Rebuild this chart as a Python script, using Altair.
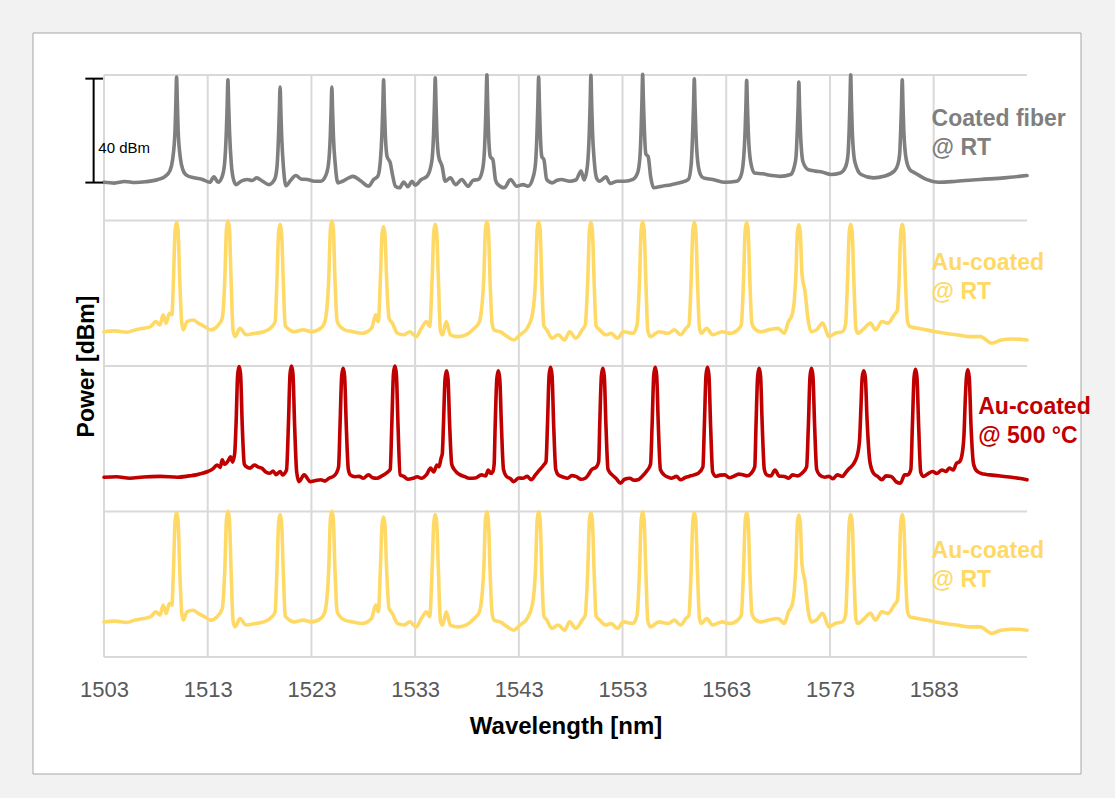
import altair as alt
import pandas as pd

# ---------------- data (wavelength nm, relative power dB) ----------------
gray_pts = [
(1503.0,0.1),(1504.0,-0.2),(1505.0,0.4),(1506.0,0.0),(1507.0,0.3),(1508.2,1.2),(1508.9,2.4),(1509.35,4.5),(1509.62,9),
(1509.85,20),(1509.93,31),(1510.0,40.6),(1510.07,31),(1510.15,20),(1510.38,9),(1510.6,5.0),
(1511.0,2.7),(1511.8,1.8),(1512.5,1.2),(1513.2,0.1),(1513.6,2.2),(1514.0,0.1),(1514.4,2.4),(1514.62,7),
(1514.8,20),(1514.88,30),(1514.95,39.6),(1515.02,30),(1515.1,20),(1515.28,7),(1515.5,1.0),
(1515.75,-0.8),(1516.2,0.5),(1516.8,1.2),(1517.3,0.8),(1517.7,1.8),(1518.3,0.5),(1518.9,-0.8),(1519.45,1.2),(1519.68,6),
(1519.83,18),(1519.91,28),(1519.98,36.8),(1520.05,28),(1520.13,18),(1520.3,6),(1520.55,-1.2),
(1521.0,0.9),(1521.5,2.7),(1522.0,1.4),(1522.6,1.2),(1523.3,0.5),(1523.9,0.5),(1524.35,2.4),(1524.64,7),
(1524.82,18),(1524.9,28),(1524.97,36.8),(1525.04,28),(1525.12,18),(1525.3,7),(1525.55,-0.1),
(1526.0,0.5),(1526.6,1.8),(1527.0,2.4),(1527.8,0.5),(1528.5,-1.4),(1529.0,1.2),(1529.4,2.4),(1529.64,8),
(1529.81,20),(1529.89,30),(1529.96,39.6),(1530.03,30),(1530.11,20),(1530.3,10),(1530.6,7.6),(1530.82,3.0),
(1531.1,-1.4),(1531.5,-2.0),(1531.9,0.2),(1532.3,-1.6),(1532.7,0.5),(1533.0,-1.0),(1533.6,1.2),(1534.15,2.4),(1534.6,8),
(1534.79,20),(1534.87,31),(1534.94,40.3),(1535.01,31),(1535.09,20),(1535.27,10),(1535.6,6.3),(1535.9,0.5),
(1536.4,1.8),(1536.9,-0.8),(1537.5,1.2),(1538.1,-1.4),(1538.6,0.9),(1539.1,1.2),(1539.5,5.0),(1539.68,12),
(1539.78,22),(1539.85,32),(1539.92,41.5),(1539.99,31),(1540.07,20),(1540.25,10),(1540.5,8.8),(1540.75,1.0),
(1541.0,-0.8),(1541.6,-2.0),(1542.2,1.2),(1542.8,-1.4),(1543.4,-0.8),(1543.9,-1.4),(1544.4,2.4),(1544.62,8),
(1544.76,20),(1544.84,31),(1544.91,40.6),(1544.98,31),(1545.06,20),(1545.22,10),(1545.42,8.8),(1545.68,1.2),
(1546.2,-0.1),(1546.7,0.9),(1547.1,1.2),(1547.9,0.5),(1548.5,1.0),(1549.0,4.4),(1549.3,1.0),(1549.6,6),
(1549.8,20),(1549.88,31),(1549.95,41.3),(1550.02,31),(1550.1,20),(1550.28,8),(1550.52,1.5),
(1550.8,0.5),(1551.4,2.2),(1551.8,-0.3),(1552.5,0.5),(1553.2,0.5),(1554.0,1.2),(1554.45,3.7),(1554.68,10),
(1554.79,20),(1554.87,31),(1554.94,41.7),(1555.01,32),(1555.09,22),(1555.25,11),(1555.47,10),(1555.72,2.0),
(1556.0,-2.0),(1556.8,-1.4),(1557.7,-0.8),(1558.6,0.0),(1559.35,1.2),(1559.62,7),
(1559.77,20),(1559.85,30),(1559.92,39.9),(1559.99,30),(1560.07,20),(1560.25,8),(1560.52,3.0),
(1560.8,1.8),(1561.7,1.2),(1562.9,0.1),(1564.0,0.5),(1564.4,2.4),(1564.67,9),
(1564.82,20),(1564.9,30),(1564.97,39.4),(1565.04,30),(1565.12,20),(1565.35,8),(1565.72,3.7),
(1566.5,3.4),(1567.4,2.7),(1568.2,2.4),(1569.2,3.1),(1569.55,6),(1569.73,10),
(1569.85,20),(1569.93,29),(1570.0,38.7),(1570.07,29),(1570.15,20),(1570.4,8),(1570.9,5.0),
(1571.6,4.4),(1572.3,4.0),(1573.1,3.1),(1574.0,3.7),(1574.5,6),(1574.72,10),
(1574.85,20),(1574.93,31),(1575.0,41.5),(1575.07,31),(1575.15,20),(1575.4,8),(1576.0,3.1),
(1577.2,1.8),(1578.2,2.4),(1579.2,4.4),(1579.55,7),(1579.72,11),
(1579.82,20),(1579.9,30),(1579.97,39.6),(1580.04,30),(1580.12,20),(1580.35,9),(1580.7,5.0),
(1581.2,3.7),(1582.3,1.2),(1583.5,0.1),(1585.2,0.5),(1587.5,1.2),(1589.8,1.8),(1592.0,2.7),
]

yellow_pts = [
(1503.0,-0.3),(1504.0,0.0),(1505.2,-0.5),(1506.0,0.4),(1506.8,1.0),(1507.5,1.7),(1508.0,3.6),(1508.4,2.3),(1508.7,6.2),(1509.0,3.0),(1509.3,6.8),(1509.55,6.2),
(1509.7,20),(1509.86,38.8),(1510.0,41.8),(1510.14,38.8),(1510.3,20),(1510.5,3),
(1510.65,0.4),(1511.0,3.6),(1511.6,4.2),(1512.1,3.0),(1512.7,1.7),(1513.3,0.4),(1513.9,1.7),(1514.4,4.9),
(1514.65,20),(1514.81,39.3),(1514.95,42.3),(1515.09,39.3),(1515.25,20),(1515.45,0),
(1515.65,-2.2),(1516.1,1.0),(1516.7,-1.5),(1517.6,-0.9),(1518.4,-0.3),(1519.2,1.7),(1519.5,3.6),
(1519.68,20),(1519.84,38.0),(1519.98,41.0),(1520.12,38.0),(1520.28,20),(1520.48,2),
(1520.7,1.0),(1521.3,-0.3),(1522.2,0.4),(1523.0,-0.3),(1523.9,1.0),(1524.3,3.6),
(1524.67,20),(1524.83,39.3),(1524.97,42.3),(1525.11,39.3),(1525.27,20),(1525.47,4),
(1525.65,2.3),(1526.2,0.4),(1527.0,-0.3),(1527.9,-0.9),(1528.8,1.0),(1529.2,6.2),(1529.45,3.6),
(1529.65,20),(1529.81,37.1),(1529.95,40.1),(1530.09,37.1),(1530.25,20),(1530.48,5),
(1530.8,3.0),(1531.3,-0.9),(1531.9,-1.5),(1532.5,-0.3),(1533.1,-2.2),(1533.6,1.0),(1534.1,3.6),(1534.4,1.7),
(1534.64,20),(1534.8,38.0),(1534.94,41.0),(1535.08,38.0),(1535.24,20),(1535.44,0),
(1535.65,-1.5),(1536.0,3.6),(1536.4,-1.5),(1537.1,-2.2),(1537.9,-1.5),(1538.7,1.0),(1539.2,3.6),
(1539.62,20),(1539.78,39.1),(1539.92,42.1),(1540.06,39.1),(1540.22,20),(1540.42,3),
(1540.62,0.4),(1541.2,-0.3),(1541.9,-2.2),(1542.5,-3.5),(1543.1,-1.5),(1543.8,1.0),(1544.3,6.2),
(1544.61,20),(1544.77,39.1),(1544.91,42.1),(1545.05,39.1),(1545.21,20),(1545.41,2),
(1545.7,0.4),(1546.2,-2.8),(1546.8,-1.5),(1547.4,-3.5),(1547.9,-0.3),(1548.5,-2.8),(1549.1,0.4),(1549.4,2.3),
(1549.65,20),(1549.81,38.8),(1549.95,41.8),(1550.09,38.8),(1550.25,20),(1550.45,2),
(1550.8,0.4),(1551.4,-1.5),(1551.9,-0.9),(1552.5,-2.8),(1553.1,-0.3),(1554.0,-0.9),(1554.4,2.3),
(1554.64,20),(1554.8,39.1),(1554.94,42.1),(1555.08,39.1),(1555.24,20),(1555.44,0),
(1555.7,-2.2),(1556.5,-0.3),(1557.4,-0.9),(1558.0,0.4),(1558.6,-1.5),(1559.1,1.0),(1559.4,2.3),
(1559.62,20),(1559.78,38.8),(1559.92,41.8),(1560.06,38.8),(1560.22,20),(1560.42,1),
(1560.62,-0.9),(1561.1,1.0),(1561.7,-1.5),(1562.6,-0.3),(1563.4,-0.9),(1564.1,0.4),(1564.45,2.3),
(1564.67,20),(1564.83,38.8),(1564.97,41.8),(1565.11,38.8),(1565.27,20),(1565.47,3),
(1565.7,1.0),(1566.3,-0.3),(1567.1,0.4),(1568.0,1.0),(1568.6,-0.9),(1569.0,3.6),(1569.35,6.2),(1569.58,12.6),
(1569.72,22),(1569.86,37.8),(1570.0,40.8),(1570.14,37.8),(1570.3,22),(1570.6,15),(1570.9,4),
(1571.2,-0.3),(1571.7,0.4),(1572.3,3.0),(1572.9,-2.2),(1573.5,-0.9),(1574.2,-0.3),(1574.5,2.3),
(1574.7,20),(1574.86,38.0),(1575.0,41.0),(1575.14,38.0),(1575.3,20),(1575.5,1),
(1575.7,-0.9),(1576.3,1.0),(1576.9,3.0),(1577.4,0.4),(1578.0,3.6),(1578.6,3.0),(1579.2,6.2),(1579.5,8),
(1579.67,20),(1579.83,38.0),(1579.97,41.0),(1580.11,38.0),(1580.27,20),(1580.47,4),
(1580.7,1.7),(1581.5,1.0),(1582.3,0.4),(1583.2,-0.3),(1584.1,-0.9),(1585.2,-1.5),(1586.4,-2.2),(1587.5,-2.2),(1588.6,-4.7),(1589.5,-3.5),(1590.6,-3.1),(1592.0,-3.5),
]

red_pts = [
(1503.0,0.0),(1504.2,0.2),(1505.5,-0.4),(1506.8,0.1),(1508.4,0.3),(1510.1,0.0),(1511.2,0.5),(1511.9,0.9),(1512.5,1.5),(1513.0,2.2),(1513.5,3.2),(1513.9,4.7),(1514.2,3.8),(1514.4,6.7),(1514.6,5.0),(1514.8,5.4),(1515.0,6.5),(1515.2,7.9),(1515.4,5.8),(1515.6,9),
(1515.73,20),(1515.89,39.6),(1516.03,42.6),(1516.17,39.6),(1516.33,20),(1516.53,5),
(1516.7,4.1),(1517.1,3.5),(1517.5,4.7),(1517.9,3.9),(1518.2,3.5),(1518.6,2.0),(1519.0,1.5),(1519.3,2.4),(1519.6,1.0),(1520.0,2.2),(1520.2,0.9),(1520.6,2.8),
(1520.78,20),(1520.94,39.8),(1521.08,42.8),(1521.22,39.8),(1521.38,20),(1521.58,2),
(1521.8,-1.7),(1522.3,0.9),(1522.9,-1.7),(1523.4,-1.3),(1523.9,-1.0),(1524.3,-1.5),(1524.7,-0.4),(1525.1,0.3),(1525.4,1.5),(1525.62,4),
(1525.76,20),(1525.92,38.9),(1526.06,41.9),(1526.2,38.9),(1526.36,20),(1526.56,3),
(1526.75,0.9),(1527.2,0.2),(1527.6,0.3),(1528.0,-0.4),(1528.5,0.9),(1528.9,-0.2),(1529.3,-0.4),(1529.8,0.5),(1530.2,1.5),(1530.6,3),
(1530.75,20),(1530.91,39.8),(1531.05,42.8),(1531.19,39.8),(1531.35,20),(1531.55,1),
(1531.9,0.3),(1532.3,-0.8),(1532.8,-0.4),(1533.2,0.2),(1533.6,-0.4),(1534.1,1.0),(1534.5,3.5),(1534.8,2.0),(1535.1,4.7),(1535.3,4.0),(1535.5,7.3),(1535.62,9),
(1535.73,20),(1535.89,38.0),(1536.03,41.0),(1536.17,38.0),(1536.33,20),(1536.53,5),
(1536.8,2.8),(1537.35,0.9),(1537.8,0.2),(1538.2,-0.4),(1538.8,-0.3),(1539.4,0.9),(1539.8,0.5),(1540.05,2.8),(1540.3,1.5),(1540.5,2.2),(1540.62,5),
(1540.72,20),(1540.88,38.0),(1541.02,41.0),(1541.16,38.0),(1541.32,20),(1541.52,3),
(1541.8,0.3),(1542.2,-0.6),(1542.5,-1.7),(1543.0,-0.3),(1543.4,-0.4),(1543.8,0.3),(1544.2,-1.0),(1544.6,0.9),(1545.0,2.8),(1545.4,4.7),(1545.62,6),
(1545.76,20),(1545.92,39.3),(1546.06,42.3),(1546.2,39.3),(1546.36,20),(1546.56,3),
(1546.8,0.9),(1547.3,0.0),(1547.7,-0.4),(1548.1,0.6),(1548.5,0.3),(1549.0,-0.8),(1549.4,-0.4),(1549.7,0.9),(1550.0,2.8),(1550.5,4.1),(1550.7,6),
(1550.8,20),(1550.96,38.9),(1551.1,41.9),(1551.24,38.9),(1551.4,20),(1551.6,3),
(1552.0,0.9),(1552.4,-0.6),(1552.8,-2.3),(1553.2,-0.8),(1553.7,-0.4),(1554.1,-1.2),(1554.5,-1.0),(1554.9,0.4),(1555.3,2.2),(1555.7,5),
(1555.85,20),(1556.01,39.3),(1556.15,42.3),(1556.29,39.3),(1556.45,20),(1556.65,3),
(1557.0,0.9),(1557.4,0.0),(1557.7,-0.4),(1558.2,0.3),(1558.6,-1.0),(1559.0,-0.2),(1559.4,0.3),(1559.9,0.9),(1560.3,1.5),(1560.75,4),
(1560.89,20),(1561.05,39.3),(1561.19,42.3),(1561.33,39.3),(1561.49,20),(1561.69,2),
(1562.0,0.3),(1562.4,0.8),(1562.85,0.9),(1563.3,-0.2),(1563.7,0.3),(1564.2,1.2),(1564.6,0.9),(1565.0,0.5),(1565.4,1.5),(1565.75,4),
(1565.87,20),(1566.03,38.9),(1566.17,41.9),(1566.31,38.9),(1566.47,20),(1566.67,3),
(1566.9,0.9),(1567.3,0.5),(1567.7,2.8),(1568.1,0.4),(1568.6,0.3),(1569.0,-0.4),(1569.4,0.9),(1569.9,0.5),(1570.3,1.5),(1570.75,4),
(1570.92,20),(1571.08,38.9),(1571.22,41.9),(1571.36,38.9),(1571.52,20),(1571.72,3),
(1572.0,0.9),(1572.5,0.0),(1572.9,0.3),(1573.3,-0.6),(1573.7,0.9),(1574.2,0.3),(1574.6,2.2),(1574.9,3.5),(1575.2,4.7),(1575.4,6.0),(1575.6,7.9),(1575.85,14),
(1575.98,26),(1576.11,38.5),(1576.26,41.0),(1576.41,38.5),(1576.58,22),(1576.85,6),
(1577.2,1.5),(1577.6,0.3),(1578.0,-1.0),(1578.4,0.5),(1578.9,0.3),(1579.4,-1.8),(1579.8,-2.3),(1580.2,0.9),(1580.5,0.9),(1580.8,3),
(1580.95,20),(1581.11,38.5),(1581.25,41.5),(1581.39,38.5),(1581.55,20),(1581.75,2),
(1582.0,0.3),(1582.4,1.2),(1582.9,2.2),(1583.3,1.4),(1583.8,2.8),(1584.2,2.2),(1584.5,3.5),(1584.9,2.8),(1585.2,5.4),(1585.5,6),(1585.7,7.9),(1585.92,16),
(1586.05,30),(1586.16,38.5),(1586.29,41.3),(1586.43,38.5),(1586.6,20),(1586.85,5),
(1587.2,2.2),(1587.8,1.2),(1588.4,0.9),(1589.1,0.6),(1589.8,0.3),(1590.5,0.0),(1591.2,-0.4),(1592.0,-1.0),
]

# vertical stacking offsets of the four traces (dB)
series_names = ["Coated fiber @ RT", "Au-coated @ RT (top)", "Au-coated @ 500 °C", "Au-coated @ RT (bottom)"]
series_offsets = [182.6, 125.5, 69.2, 13.8]
series_colors = ["#7f7f7f", "#FFD966", "#C00000", "#FFD966"]
series_points = [gray_pts, yellow_pts, red_pts, yellow_pts]

x_ticks = [1503, 1513, 1523, 1533, 1543, 1553, 1563, 1573, 1583]
y_grid = [0, 56, 112, 168, 224]
X_DOMAIN = [1503, 1592]
Y_DOMAIN = [0, 224]

label_text = ["Coated fiber", "@ RT", "Au-coated", "@ RT", "Au-coated", "@ 500 °C", "Au-coated", "@ RT"]
label_x = [1582.8, 1582.8, 1582.8, 1582.8, 1587.3, 1587.3, 1582.8, 1582.8]
label_y = [204.4, 193.2, 148.9, 137.7, 93.4, 82.2, 38.0, 26.9]
label_color = ["#7f7f7f", "#7f7f7f", "#FFD966", "#FFD966", "#C00000", "#C00000", "#FFD966", "#FFD966"]

# scale bar (40 dBm) drawn at the left of the top trace
bar_x = 1502.0
bar_y = [182.6, 222.6]
bar_tick_x = [1501.2, 1502.9]

# ---------------- build tables ----------------
rows = []
for name, off, pts in zip(series_names, series_offsets, series_points):
    for wl, p in pts:
        rows.append({"wl": wl, "p": p + off, "series": name})
df = pd.DataFrame(rows)

W, H = 923, 582
xs = alt.Scale(domain=X_DOMAIN, nice=False, zero=False)
ys = alt.Scale(domain=Y_DOMAIN, nice=False, zero=False)

# white panel behind everything
panel = alt.Chart(pd.DataFrame({"a": [0]})).mark_rect(
    fill="white", stroke="#a6a6a6", strokeWidth=1
).encode(x=alt.value(-71), x2=alt.value(977), y=alt.value(-42), y2=alt.value(699))

vgrid = alt.Chart(pd.DataFrame({"wl": x_ticks})).mark_rule(
    color="#d9d9d9", strokeWidth=2
).encode(
    x=alt.X("wl:Q", scale=xs,
            axis=alt.Axis(values=x_ticks, grid=False, domain=False, ticks=False, tickSize=0,
                          labelFont="Liberation Sans", labelFontSize=22, labelColor="#595959",
                          labelPadding=22, title="Wavelength [nm]", titleFont="Liberation Sans",
                          titleFontSize=24, titleFontWeight="bold", titleColor="#000000",
                          titlePadding=14, format="d", labelFlush=False, zindex=2)),
    y=alt.datum(Y_DOMAIN[0]), y2=alt.datum(Y_DOMAIN[1]),
)

hgrid = alt.Chart(pd.DataFrame({"g": y_grid})).mark_rule(
    color="#d9d9d9", strokeWidth=2
).encode(
    y=alt.Y("g:Q", scale=ys,
            axis=alt.Axis(labels=False, ticks=False, domain=False, grid=False,
                          title="Power [dBm]", titleFont="Liberation Sans", titleFontSize=23,
                          titleFontWeight="bold", titleColor="#000000", titlePadding=6, zindex=2)),
    x=alt.datum(X_DOMAIN[0]), x2=alt.datum(X_DOMAIN[1]),
)

lines = alt.Chart(df).mark_line(strokeWidth=3.6, interpolate="monotone", strokeJoin="round", strokeCap="round").encode(
    x=alt.X("wl:Q", scale=xs),
    y=alt.Y("p:Q", scale=ys),
    color=alt.Color("series:N", scale=alt.Scale(domain=series_names, range=series_colors), legend=None),
    detail="series:N",
)

labels_df = pd.DataFrame({"text": label_text, "wl": label_x, "p": label_y, "c": label_color})
labels = alt.Chart(labels_df).mark_text(
    font="Liberation Sans", fontSize=23, fontWeight="bold", align="left", baseline="alphabetic"
).encode(
    x=alt.X("wl:Q", scale=xs), y=alt.Y("p:Q", scale=ys),
    text="text:N", color=alt.Color("c:N", scale=None),
)

bar = alt.Chart(pd.DataFrame({"wl": [bar_x]})).mark_rule(color="black", strokeWidth=2).encode(
    x=alt.X("wl:Q", scale=xs), y=alt.datum(bar_y[0]), y2=alt.datum(bar_y[1]),
)
bar_ticks = alt.Chart(pd.DataFrame({"p": bar_y})).mark_rule(color="black", strokeWidth=2).encode(
    y=alt.Y("p:Q", scale=ys), x=alt.datum(bar_tick_x[0]), x2=alt.datum(bar_tick_x[1]),
)
bar_text = alt.Chart(pd.DataFrame({"wl": [1502.45], "p": [193.9], "t": ["40 dBm"]})).mark_text(
    font="Liberation Sans", fontSize=15, align="left", baseline="alphabetic", color="black"
).encode(x=alt.X("wl:Q", scale=xs), y=alt.Y("p:Q", scale=ys), text="t:N")

chart = alt.layer(panel, vgrid, hgrid, lines, labels, bar, bar_ticks, bar_text).properties(
    width=W, height=H,
    autosize=alt.AutoSizeParams(type="none"),
    padding={"left": 104, "top": 75, "right": 88, "bottom": 141},
    background="#f2f2f2",
).configure_view(stroke=None)

chart.save("out.html", embed_options={"renderer": "svg", "actions": False})
